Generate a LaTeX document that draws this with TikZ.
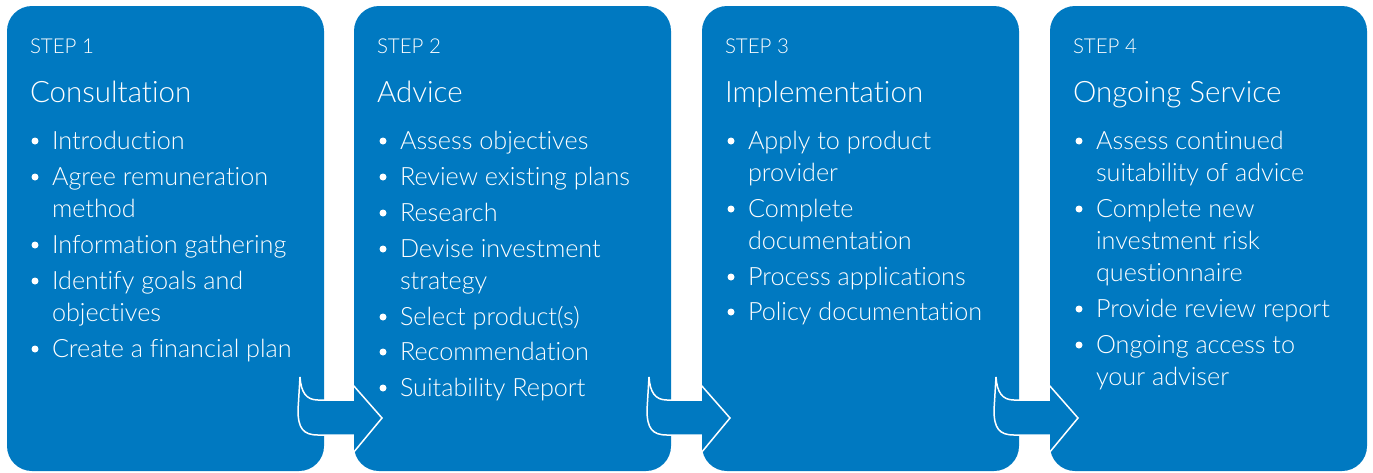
\documentclass[tikz,border=0pt]{standalone}
\usepackage{fontspec}
\setmainfont{Lato Light}[Ligatures=NoCommon]
\definecolor{panelblue}{RGB}{0,121,193}
\tikzset{
  panel/.style={fill=panelblue, rounded corners=25pt, draw=none, inner sep=0pt, outer sep=0pt,
    minimum width=317pt, minimum height=465pt, anchor=north west},
  txt/.style={anchor=base west, inner sep=0pt, outer sep=0pt, text=white, font=\fontsize{25.2}{30}\selectfont},
  steplbl/.style={txt, font=\fontsize{20.5}{26}\selectfont},
  ttl/.style={txt, font=\fontsize{29.5}{36}\selectfont},
  dot/.style={circle, fill=white, inner sep=0pt, minimum size=7pt},
  flow/.style={fill=panelblue, draw=white, line width=1.5pt, line join=miter}
}
\begin{document}
\begin{tikzpicture}[x=1pt,y=-1pt]
\useasboundingbox (0,0) rectangle (1373,472);
% panels
\node[panel] (p1) at (7,6) {};
\node[panel] (p2) at (354,6) {};
\node[panel] (p3) at (702,6) {};
\node[panel] (p4) at (1050,6) {};
% arrows between panels
\foreach \R/\L in {323/354, 672/702, 1019/1050}{
  \path[flow] (\R-23,377) .. controls (\R-22,392) and (\R-17,400) .. (\R-5,400)
    -- (\L-1,400) -- (\L-1,385) -- (\L+28,418) -- (\L-1,453) -- (\L-1,435)
    -- (\R-5,435) .. controls (\R-20,435) and (\R-25,428) .. (\R-25,410) -- cycle;
}
% panel 1
\node[steplbl] (s1) at (30,53) {STEP 1};
\node[ttl] (t1) at (30,102) {Consultation};
\node[txt] (a1) at (52,149) {Introduction};
\node[txt] (a2) at (52,185) {Agree remuneration};
\node[txt] (a3) at (52,217) {method};
\node[txt] (a4) at (52,253) {Information gathering};
\node[txt] (a5) at (52,289) {Identify goals and};
\node[txt] (a6) at (52,321) {objectives};
\node[txt] (a7) at (52,357) {Create a financial plan};
\foreach \y/\n in {149/1,185/2,253/3,289/4,357/5}{\node[dot] (da\n) at (35,\y-8) {};}
% panel 2
\node[steplbl] (s2) at (377,53) {STEP 2};
\node[ttl] (t2) at (377,102) {Advice};
\node[txt] (b1) at (400,149) {Assess objectives};
\node[txt] (b2) at (400,185) {Review existing plans};
\node[txt] (b3) at (400,221) {Research};
\node[txt] (b4) at (400,257) {Devise investment};
\node[txt] (b5) at (400,289) {strategy};
\node[txt] (b6) at (400,325) {Select product(s)};
\node[txt] (b7) at (400,360) {Recommendation};
\node[txt] (b8) at (400,396) {Suitability Report};
\foreach \y/\n in {149/1,185/2,221/3,257/4,325/5,360/6,396/7}{\node[dot] (db\n) at (383,\y-8) {};}
% panel 3
\node[steplbl] (s3) at (725,53) {STEP 3};
\node[ttl] (t3) at (725,102) {Implementation};
\node[txt] (c1) at (748,149) {Apply to product};
\node[txt] (c2) at (748,181) {provider};
\node[txt] (c3) at (748,217) {Complete};
\node[txt] (c4) at (748,249) {documentation};
\node[txt] (c5) at (748,285) {Process applications};
\node[txt] (c6) at (748,320) {Policy documentation};
\foreach \y/\n in {149/1,217/2,285/3,320/4}{\node[dot] (dc\n) at (731,\y-8) {};}
% panel 4
\node[steplbl] (s4) at (1073,53) {STEP 4};
\node[ttl] (t4) at (1073,102) {Ongoing Service};
\node[txt] (e1) at (1096,149) {Assess continued};
\node[txt] (e2) at (1096,181) {suitability of advice};
\node[txt] (e3) at (1096,217) {Complete new};
\node[txt] (e4) at (1096,249) {investment risk};
\node[txt] (e5) at (1096,281) {questionnaire};
\node[txt] (e6) at (1096,317) {Provide review report};
\node[txt] (e7) at (1096,353) {Ongoing access to};
\node[txt] (e8) at (1096,385) {your adviser};
\foreach \y/\n in {149/1,217/2,317/3,353/4}{\node[dot] (de\n) at (1079,\y-8) {};}
\end{tikzpicture}
\end{document}
